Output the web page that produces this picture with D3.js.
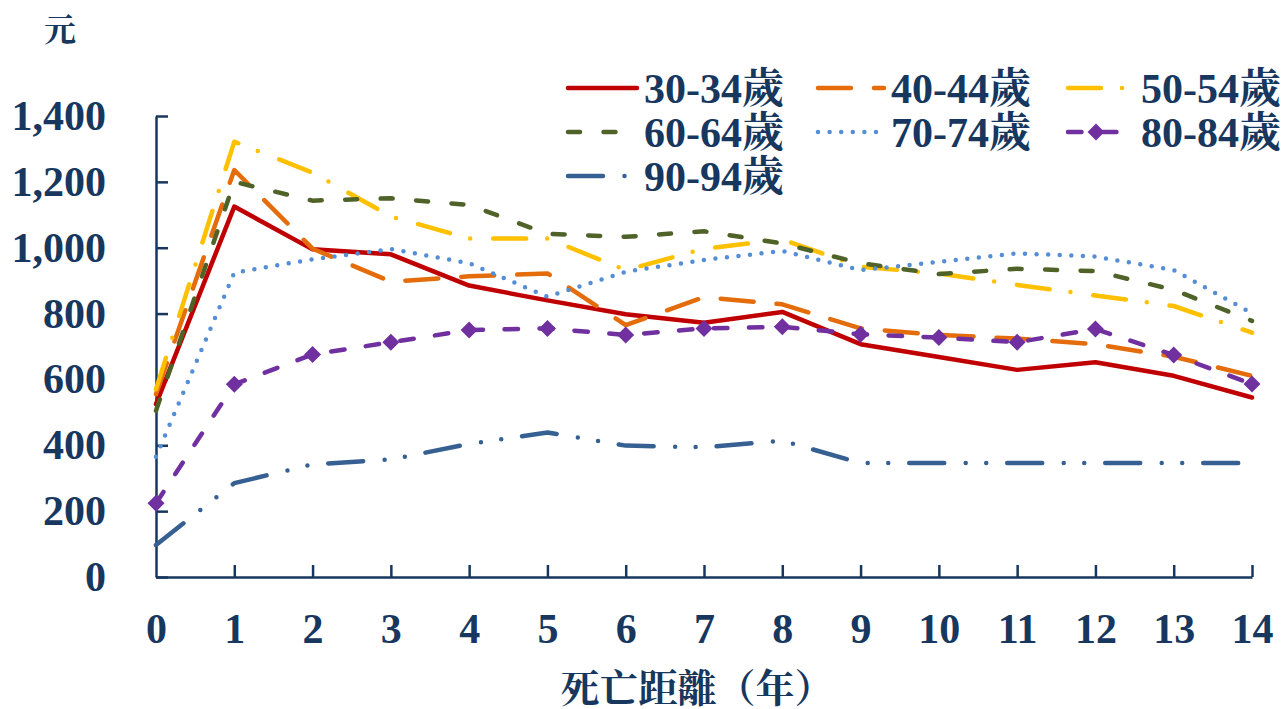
<!DOCTYPE html>
<html>
<head>
<meta charset="utf-8">
<script src="https://cdn.jsdelivr.net/npm/d3@7"></script>
<style>
  html, body { margin: 0; padding: 0; background: #fff; }
  svg { display: block; }
  text { font-family: "Liberation Serif", "Noto Serif CJK TC", "Noto Sans CJK TC", serif; font-weight: bold; fill: #17375E; }
</style>
</head>
<body>
<svg id="chart" width="1284" height="709"></svg>
<script>
// Years before death (x) and monthly amounts in 元 for each age group
const years = [0, 1, 2, 3, 4, 5, 6, 7, 8, 9, 10, 11, 12, 13, 14];
const yTicks = [0, 200, 400, 600, 800, 1000, 1200, 1400];

const age30_34 = [525, 1125, 995, 980, 885, 840, 798, 772, 805, 707, 668, 629, 652, 611, 545];
const age40_44 = [555, 1236, 997, 897, 913, 922, 765, 850, 828, 755, 735, 724, 707, 669, 611];
const age50_54 = [570, 1322, 1228, 1095, 1028, 1028, 932, 997, 1025, 942, 922, 887, 855, 823, 742];
const age60_64 = [505, 1200, 1143, 1150, 1130, 1042, 1033, 1050, 1013, 953, 920, 936, 929, 872, 778];
const age70_74 = [365, 924, 965, 996, 953, 851, 927, 963, 990, 932, 957, 983, 973, 932, 801];
const age80_84 = [224, 585, 676, 713, 750, 755, 735, 755, 760, 737, 727, 713, 753, 674, 586];
const age90_94 = [97, 285, 342, 357, 404, 439, 399, 394, 414, 346, 346, 346, 346, 346, 346];

const seriesNames = ["30-34歲", "40-44歲", "50-54歲", "60-64歲", "70-74歲", "80-84歲", "90-94歲"];
const seriesValues = [age30_34, age40_44, age50_54, age60_64, age70_74, age80_84, age90_94];

// Line styles per series
const styles = [
  { color: "#C00000", dash: null,                   marker: false },
  { color: "#E46C0A", dash: "33 23",                marker: false },
  { color: "#FFC000", dash: "33 21 0 23",           marker: false },
  { color: "#4F6228", dash: "12 23.5",              marker: false },
  { color: "#558ED5", dash: "0 11.6",               marker: false },
  { color: "#7030A0", dash: "13.5 21.5",            marker: true  },
  { color: "#376092", dash: "35 21.5 0 20.5 0 21",  marker: false }
];

const svg = d3.select("#chart");
const plot = { left: 156, right: 1252, top: 116, bottom: 577 };
const axisColor = "#17375E";

const x = d3.scaleLinear().domain([0, 14]).range([plot.left, plot.right]);
const y = d3.scaleLinear().domain([0, 1400]).range([plot.bottom, plot.top]);

// Y axis with inward ticks
const yAxis = svg.append("g")
  .attr("transform", `translate(${plot.left},0)`)
  .call(d3.axisLeft(y).tickValues(yTicks).tickFormat(d3.format(",")).tickSize(-12).tickSizeOuter(0).tickPadding(50));

// X axis with inward ticks
const xAxis = svg.append("g")
  .attr("transform", `translate(0,${plot.bottom})`)
  .call(d3.axisBottom(x).tickValues(years).tickFormat(d3.format("d")).tickSize(-12).tickSizeOuter(0).tickPadding(36));

[yAxis, xAxis].forEach(g => {
  g.select(".domain").attr("stroke", axisColor).attr("stroke-width", 2.5);
  g.selectAll(".tick line").attr("stroke", axisColor).attr("stroke-width", 2.5);
  g.selectAll(".tick text")
    .style("font-family", '"Liberation Serif", serif')
    .style("font-weight", "bold")
    .style("font-size", "42px")
    .attr("fill", axisColor);
});
xAxis.select(".tick line").remove();

const line = d3.line().x((d, i) => x(years[i])).y(d => y(d));
const diamond = "M0,-8.5L8.5,0L0,8.5L-8.5,0Z";

// Series lines
seriesValues.forEach((vals, k) => {
  const st = styles[k];
  svg.append("path")
    .datum(vals)
    .attr("d", line)
    .attr("fill", "none")
    .attr("stroke", st.color)
    .attr("stroke-width", 4.5)
    .attr("stroke-linecap", "round")
    .attr("stroke-linejoin", "round")
    .attr("stroke-dasharray", st.dash);
  if (st.marker) {
    svg.append("g").selectAll("path")
      .data(vals)
      .join("path")
      .attr("d", diamond)
      .attr("transform", (d, i) => `translate(${x(years[i])},${y(d)})`)
      .attr("fill", st.color);
  }
});

// Legend: three columns, three rows
const legendLineX = [568, 818, 1068];
const legendTextX = [644, 891, 1141];
const legendRowY = [88, 132, 176];
const legendLen = [69, 66, 56, 57, 61, 54, 58];

seriesNames.forEach((name, k) => {
  const col = k % 3, row = Math.floor(k / 3);
  const st = styles[k];
  const g = svg.append("g");
  const x0 = legendLineX[col], yy = legendRowY[row];
  g.append("line")
    .attr("x1", x0).attr("x2", x0 + legendLen[k])
    .attr("y1", yy).attr("y2", yy)
    .attr("stroke", st.color)
    .attr("stroke-width", 4.5)
    .attr("stroke-linecap", "round")
    .attr("stroke-dasharray", st.dash);
  if (st.marker) {
    g.append("path").attr("d", diamond)
      .attr("transform", `translate(${x0 + 28},${yy})`)
      .attr("fill", st.color);
  }
  g.append("text")
    .attr("x", legendTextX[col])
    .attr("y", yy)
    .attr("dy", "0.35em")
    .style("font-size", "42px")
    .text(name);
});

// Axis titles
svg.append("text")
  .attr("x", 60).attr("y", 30).attr("dy", "0.35em")
  .attr("text-anchor", "middle")
  .style("font-size", "32px")
  .text("元");

svg.append("text")
  .attr("x", 697).attr("y", 688).attr("dy", "0.35em")
  .attr("text-anchor", "middle")
  .style("font-size", "39px")
  .text("死亡距離（年）");
</script>
</body>
</html>
